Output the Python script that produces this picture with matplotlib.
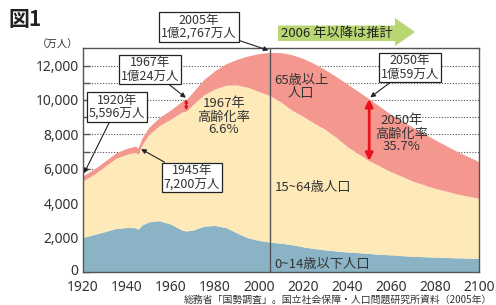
import matplotlib
matplotlib.use("Agg")
import matplotlib.pyplot as plt
from matplotlib.patches import Polygon
import matplotlib.transforms as mtransforms
import numpy as np

plt.rcParams['font.family'] = ['Noto Sans CJK JP', 'DejaVu Sans']

# ---- data (万人) ----
years = [1920, 1925, 1930, 1935, 1940, 1944, 1945, 1947, 1950, 1955, 1960, 1965,
         1967, 1970, 1975, 1980, 1985, 1990, 1995, 2000, 2005, 2010, 2015, 2020,
         2025, 2030, 2035, 2040, 2045, 2050, 2060, 2070, 2080, 2090, 2100]
total = [5596, 5974, 6445, 6925, 7193, 7330, 7200, 7810, 8412, 9008, 9430, 9921,
         10024, 10467, 11194, 11706, 12105, 12361, 12557, 12693, 12767, 12747, 12627, 12411,
         12114, 11758, 11360, 10934, 10500, 10059, 9150, 8400, 7680, 7000, 6414]
age0_64 = [5300, 5670, 6140, 6610, 6850, 6960, 6830, 7420, 7990, 8530, 8890, 9300,
           9360, 9730, 10300, 10640, 10860, 10870, 10730, 10490, 10250, 9880, 9400, 9050,
           8650, 8300, 7830, 7300, 6880, 6470, 5830, 5280, 4870, 4540, 4290]
age0_14 = [2020, 2190, 2360, 2540, 2600, 2590, 2490, 2750, 2930, 2980, 2800, 2450,
           2400, 2450, 2680, 2720, 2600, 2280, 2000, 1850, 1750, 1690, 1600, 1480,
           1380, 1300, 1240, 1180, 1140, 1090, 1000, 930, 880, 840, 810]
xticks = [1920, 1940, 1960, 1980, 2000, 2020, 2040, 2060, 2080, 2100]
yticks = [0, 2000, 4000, 6000, 8000, 10000, 12000]
ytick_labels = ['0', '2,000', '4,000', '6,000', '8,000', '10,000', '12,000']

W, H = 496, 305
fig = plt.figure(figsize=(W / 100, H / 100), dpi=100)
ax = fig.add_axes([82.7 / W, 1 - 272.3 / H, (479.4 - 82.7) / W, (272.3 - 48.3) / H])

c_blue = '#8AB3C5'
c_yel = '#FEE9B8'
c_pink = '#F4988F'
c_red = '#E8121C'
c_edge = '#555555'

x = np.array(years)
ax.fill_between(x, 0, age0_14, color=c_blue, lw=0, zorder=2)
ax.fill_between(x, age0_14, age0_64, color=c_yel, lw=0, zorder=2)
ax.fill_between(x, age0_64, total, color=c_pink, lw=0, zorder=2)

ax.set_xlim(1920, 2100)
ax.set_ylim(0, 13000)
for v in range(1000, 13000, 1000):
    ax.axhline(v, color='#555555', lw=0.8, ls=(0, (1, 1.5)), zorder=1)
ax.axvline(2005, color=c_edge, lw=1.0, zorder=3)

ax.set_yticks(yticks)
ax.set_yticklabels(ytick_labels)
ax.set_yticks(range(1000, 13000, 2000), minor=True)
ax.tick_params(axis='y', which='both', direction='in', length=5, width=1,
               color=c_edge, labelsize=10, pad=3, labelcolor='#333333')
ax.set_xticks(xticks)
ax.tick_params(axis='x', length=0, labelsize=10, pad=5.5, labelcolor='#333333')
for lbl in ax.get_xticklabels() + ax.get_yticklabels():
    lbl.set_family(['Noto Sans', 'DejaVu Sans'])
# nudge the "0" label up slightly so it clears the 1920 label
zero_lbl = ax.yaxis.get_major_ticks()[0].label1
zero_lbl.set_transform(zero_lbl.get_transform() +
                       mtransforms.ScaledTranslation(0, 2.5 / 100, fig.dpi_scale_trans))
for s in ax.spines.values():
    s.set_color(c_edge)
    s.set_linewidth(1.0)
    s.set_zorder(5)

def px2data(px, py):
    return 1920 + (px - 82.7) / 2.204, (272.3 - py) * 58.04

box = dict(boxstyle='square,pad=0.15', fc='white', ec='#222222', lw=0.9)
arr = dict(arrowstyle='-|>', color='#222222', lw=0.8, mutation_scale=7, shrinkA=0, shrinkB=0)

def note(text, center_px, target):
    ax.annotate(text, xy=target, xytext=px2data(*center_px), ha='center', va='center',
                fontsize=9, color='#333333', linespacing=1.0, bbox=box,
                arrowprops=arr, annotation_clip=False, zorder=10)

note('2005年\n1億2,767万人', (199, 27), (2004.3, 12880))
note('1967年\n1億24万人', (150, 69.5), (1966.8, 10130))
note('1920年\n5,596万人', (117, 107), (1920.6, 5750))
note('1945年\n7,200万人', (192, 177.5), (1946.5, 7150))
note('2050年\n1億59万人', (410, 67.5), (2050.5, 10150))

# red double arrows
ax.annotate('', xy=(1967, 10060), xytext=(1967, 9400),
            arrowprops=dict(arrowstyle='<|-|>', color=c_red, lw=1.2, mutation_scale=4,
                            shrinkA=0, shrinkB=0), zorder=8)
ax.annotate('', xy=(2050, 10059), xytext=(2050, 6470),
            arrowprops=dict(arrowstyle='<|-|>', color=c_red, lw=2.0, mutation_scale=11,
                            shrinkA=0, shrinkB=0), zorder=8)

tc = '#333333'
ax.text(*px2data(224, 117), '1967年\n高齢化率\n6.6%', ha='center', va='center',
        fontsize=9.5, color=tc, linespacing=1.0, zorder=9)
ax.text(*px2data(301, 87), '65歳以上\n人口', ha='center', va='center',
        fontsize=9.5, color=tc, linespacing=1.05, zorder=9)
ax.text(*px2data(402, 134), '2050年\n高齢化率\n35.7%', ha='center', va='center',
        fontsize=9.5, color=tc, linespacing=1.0, zorder=9)
ax.text(*px2data(275, 188), '15~64歳人口', ha='left', va='center',
        fontsize=9.5, color=tc, zorder=9)
ax.text(*px2data(274, 265), '0~14歳以下人口', ha='left', va='center',
        fontsize=9.5, color=tc, zorder=9)

# figure-level texts
fig.text(8 / W, 1 - 19 / H, '図1', fontsize=15, fontweight='bold', color='#222222',
         ha='left', va='center')
fig.text(58 / W, 1 - 45 / H, '（万人）', fontsize=7.5, color='#333333', ha='center', va='center')
fig.text(492 / W, 1 - 300 / H, '総務省「国勢調査」。国立社会保障・人口問題研究所資料（2005年）',
         fontsize=7.1, color='#333333', ha='right', va='center')

# green arrow
pts = [(278, 25.5), (395, 25.5), (395, 18), (415, 32), (395, 46), (395, 41), (278, 41)]
poly = Polygon([(px / W, 1 - py / H) for px, py in pts], closed=True,
               transform=fig.transFigure, fc='#B8D673', ec='none')
fig.patches.append(poly)
fig.text(281 / W, 1 - 33 / H, '2006 年以降は推計', fontsize=9.5, color='#222222',
         ha='left', va='center')

fig.savefig('out.png', dpi=100)
